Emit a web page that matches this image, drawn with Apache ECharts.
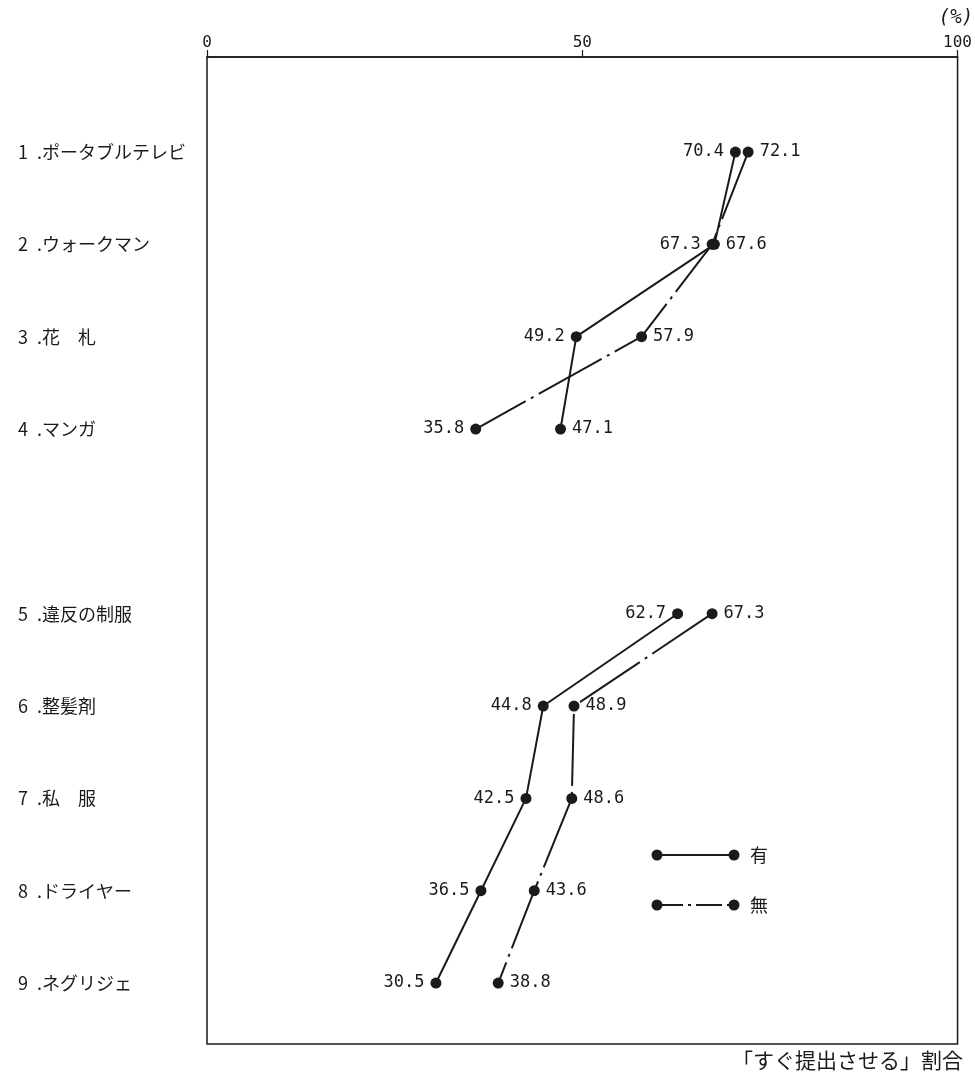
<!DOCTYPE html>
<html>
<head>
<meta charset="utf-8">
<script src="https://cdn.jsdelivr.net/npm/echarts@6/dist/echarts.min.js"></script>
<style>
html,body{margin:0;padding:0;background:#fff;}
#chart{width:975px;height:1077px;}
</style>
</head>
<body>
<div id="chart"></div>
<script>
// ---- data ----
var categories = ['1\u2002.ポータブルテレビ', '2\u2002.ウォークマン', '3\u2002.花　札', '4\u2002.マンガ', '',
  '5\u2002.違反の制服', '6\u2002.整髪剤', '7\u2002.私　服', '8\u2002.ドライヤー', '9\u2002.ネグリジェ'];
var seriesNames = ['有', '無'];
var valuesAri = [70.4, 67.6, 49.2, 47.1, null, 62.7, 44.8, 42.5, 36.5, 30.5];
var valuesNashi = [72.1, 67.3, 57.9, 35.8, null, 67.3, 48.9, 48.6, 43.6, 38.8];
var xTicks = [0, 50, 100];
var axisTitle = '「すぐ提出させる」割合';
var unitLabel = '(%)';

// label sides (style)
var sideAri = ['left', 'right', 'left', 'right', null, 'left', 'left', 'left', 'left', 'left'];
var sideNashi = ['right', 'left', 'right', 'left', null, 'right', 'right', 'right', 'right', 'right'];

var numFont = '"DejaVu Sans Mono", "Liberation Mono", monospace';
var jpFont = '"Noto Sans CJK JP", sans-serif';
var ink = '#1a1a1a';
var dashDot = [72, 6, 3, 6];

function build(vals, sides) {
  return vals.map(function (v, i) {
    if (v == null) return { value: ['-', i] };
    return {
      value: [v, i],
      label: { position: sides[i] }
    };
  });
}

var labelIdx = [];
categories.forEach(function (c, i) { if (c) labelIdx.push(i); });

var chart = echarts.init(document.getElementById('chart'), null, { renderer: 'canvas' });

var option = {
  backgroundColor: '#fff',
  animation: false,
  grid: {
    left: 207, right: 17, top: 57, bottom: 33,
    show: true, borderColor: ink, borderWidth: 1.5, backgroundColor: 'transparent'
  },
  xAxis: {
    type: 'value',
    position: 'top',
    min: 0, max: 100, interval: 50,
    axisLine: { show: true, onZero: false, lineStyle: { color: ink, width: 1.5 } },
    axisTick: { show: true, inside: false, length: 7, lineStyle: { color: ink, width: 1.2 } },
    axisLabel: {
      margin: 6, color: ink, fontFamily: numFont, fontSize: 16,
      formatter: function (v) { return xTicks.indexOf(v) >= 0 ? String(v) : ''; }
    },
    splitLine: { show: false }
  },
  yAxis: {
    type: 'value',
    inverse: true,
    min: -1.029, max: 9.66,
    axisLine: { show: false, onZero: false },
    axisTick: { show: false },
    splitLine: { show: false },
    axisLabel: {
      customValues: labelIdx,
      align: 'left',
      margin: 189,
      color: ink,
      fontFamily: jpFont,
      fontSize: 18,
      formatter: function (v) { return categories[Math.round(v)] || ''; }
    }
  },
  series: [
    {
      name: seriesNames[0],
      type: 'line',
      data: build(valuesAri, sideAri),
      connectNulls: false,
      symbol: 'circle',
      symbolSize: 11,
      itemStyle: { color: ink },
      lineStyle: { color: ink, width: 2, type: 'solid' },
      label: {
        show: true, distance: 6, color: ink, fontFamily: numFont, fontSize: 17,
        formatter: function (p) { return p.value[0].toFixed(1); }
      }
    },
    {
      name: seriesNames[1],
      type: 'line',
      data: build(valuesNashi, sideNashi),
      connectNulls: false,
      symbol: 'circle',
      symbolSize: 11,
      itemStyle: { color: ink },
      lineStyle: { color: ink, width: 2, type: dashDot },
      label: {
        show: true, distance: 6, color: ink, fontFamily: numFont, fontSize: 17,
        formatter: function (p) { return p.value[0].toFixed(1); }
      }
    }
  ],
  graphic: [
    // legend: 有
    { type: 'line', shape: { x1: 657, y1: 855, x2: 734, y2: 855 }, style: { stroke: ink, lineWidth: 2 } },
    { type: 'circle', shape: { cx: 657, cy: 855, r: 5.5 }, style: { fill: ink } },
    { type: 'circle', shape: { cx: 734, cy: 855, r: 5.5 }, style: { fill: ink } },
    { type: 'text', x: 750, y: 855, style: { text: seriesNames[0], font: '18px ' + jpFont, fill: ink, verticalAlign: 'middle' } },
    // legend: 無
    { type: 'line', shape: { x1: 657, y1: 905, x2: 734, y2: 905 }, style: { stroke: ink, lineWidth: 2, lineDash: [26, 5, 3, 5] } },
    { type: 'circle', shape: { cx: 657, cy: 905, r: 5.5 }, style: { fill: ink } },
    { type: 'circle', shape: { cx: 734, cy: 905, r: 5.5 }, style: { fill: ink } },
    { type: 'text', x: 750, y: 905, style: { text: seriesNames[1], font: '18px ' + jpFont, fill: ink, verticalAlign: 'middle' } },
    // unit and axis title
    { type: 'text', x: 956, y: 18, style: { text: unitLabel, font: 'italic 19px ' + numFont, fill: ink, align: 'center', verticalAlign: 'middle' } },
    { type: 'text', x: 963, y: 1060, style: { text: axisTitle, font: '21px ' + jpFont, fill: ink, align: 'right', verticalAlign: 'middle' } }
  ]
};
chart.setOption(option);
</script>
</body>
</html>
